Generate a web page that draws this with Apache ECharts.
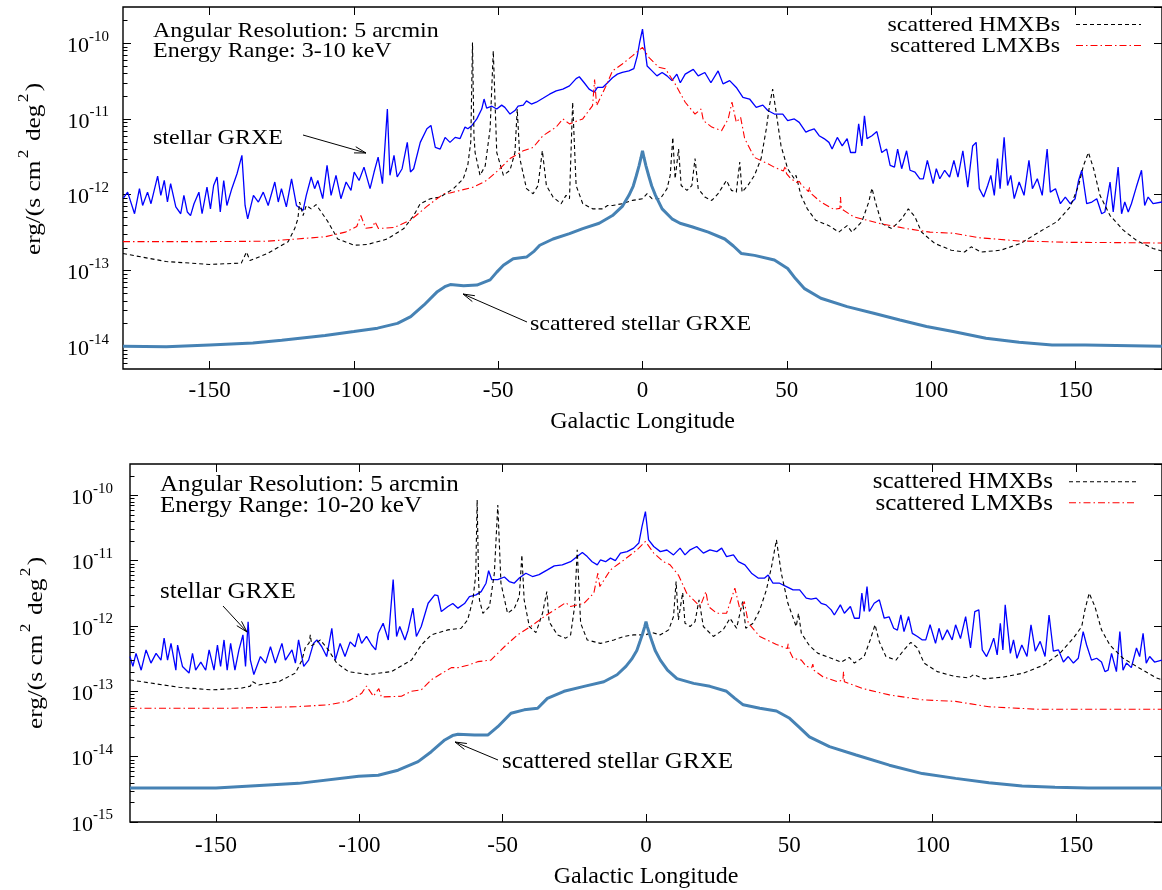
<!DOCTYPE html>
<html>
<head>
<meta charset="utf-8">
<script src="https://cdn.jsdelivr.net/npm/echarts@6/dist/echarts.min.js"></script>
<style>
html,body{margin:0;padding:0;background:#fff;}
#chart{width:1162px;height:890px;}
</style>
</head>
<body>
<div id="chart"></div>
<script>
// ---------------- DATA ----------------
const xTicks = [-150, -100, -50, 0, 50, 100, 150];
const decadesTop = [-14, -13, -12, -11, -10];
const decadesBot = [-15, -14, -13, -12, -11, -10];

// Panel 1: 3-10 keV
const topStellar = [
[-180,0.885e-12],[-178.4,1.08e-12],[-176.0,0.56e-12],[-174.3,1.2e-12],[-173.2,0.72e-12],[-171.5,1.08e-12],[-170.3,0.76e-12],[-168.0,1.76e-12],[-166.9,0.98e-12],[-165.7,1.54e-12],[-164.6,0.8e-12],[-163.5,1.4e-12],[-161.7,0.69e-12],[-160.0,0.56e-12],[-158.9,0.98e-12],[-157.7,0.59e-12],[-156.6,0.53e-12],[-155.4,0.76e-12],[-153.7,1.08e-12],[-152.6,0.56e-12],[-150.9,1.26e-12],[-149.7,0.65e-12],[-148.6,1.32e-12],[-147.4,1.71e-12],[-146.3,0.59e-12],[-145.1,1.54e-12],[-144.0,0.72e-12],[-142.3,1.2e-12],[-140.5,1.89e-12],[-138.8,3.3e-12],[-137.7,0.72e-12],[-136.8,0.48e-12],[-134.8,0.98e-12],[-133.1,0.8e-12],[-131.4,1.08e-12],[-129.7,0.72e-12],[-127.4,1.47e-12],[-126.2,0.8e-12],[-125.1,1.2e-12],[-123.4,0.69e-12],[-121.6,1.62e-12],[-119.9,0.72e-12],[-117.6,0.62e-12],[-116.5,0.98e-12],[-114.8,1.71e-12],[-113.6,1.2e-12],[-112.5,1.54e-12],[-110.8,0.885e-12],[-109.3,2.43e-12],[-107.9,0.98e-12],[-106.2,1.8e-12],[-104.5,0.885e-12],[-102.7,1.47e-12],[-101.0,1.14e-12],[-99.9,1.99e-12],[-98.2,1.54e-12],[-96.5,2.31e-12],[-94.4,1.2e-12],[-93.0,1.99e-12],[-91.6,3.13e-12],[-90.1,1.4e-12],[-88.4,1.35e-11],[-87.5,1.8e-12],[-86.1,3.3e-12],[-85.0,1.71e-12],[-83.3,2.2e-12],[-81.5,4.9e-12],[-80.4,1.99e-12],[-79.3,2.2e-12],[-77.0,4.9e-12],[-74.7,7.4e-12],[-73.3,8.2e-12],[-71.8,4.2e-12],[-70.1,4.0e-12],[-68.4,5.7e-12],[-66.7,4.9e-12],[-64.9,5.7e-12],[-63.2,5.5e-12],[-61.5,7.8e-12],[-60.5,7.4e-12],[-59.1,8.2e-12],[-57.4,1.0e-11],[-55.7,1.35e-11],[-54.9,1.83e-11],[-54.0,1.39e-11],[-52.2,1.47e-11],[-50.5,1.35e-11],[-48.8,1.52e-11],[-47.7,1.42e-11],[-45.9,1.16e-11],[-44.2,1.29e-11],[-43.1,1.47e-11],[-41.3,1.52e-11],[-40.2,1.73e-11],[-38.5,1.57e-11],[-36.8,1.66e-11],[-34.5,1.87e-11],[-32.2,2.12e-11],[-29.9,2.35e-11],[-27.6,2.47e-11],[-25.3,2.73e-11],[-23.0,3.4e-11],[-21.9,3.6e-11],[-20.2,3.0e-11],[-18.5,2.47e-11],[-16.7,2.25e-11],[-15.6,2.61e-11],[-13.8,2.6e-11],[-12.1,3.0e-11],[-10.4,3.5e-11],[-8.7,3.9e-11],[-7.0,4.1e-11],[-4.7,4.3e-11],[-3.0,4.6e-11],[-1.8,6.8e-11],[-1.0,1.02e-10],[0,1.53e-10],[0.7,9.2e-11],[1.6,5.0e-11],[3.3,4.3e-11],[5.0,3.7e-11],[6.8,4.1e-11],[8.5,3.7e-11],[10.2,3.2e-11],[11.9,3.9e-11],[13.1,3.0e-11],[14.8,3.9e-11],[17.6,4.5e-11],[19.3,3.7e-11],[21.6,4.1e-11],[23.7,3.0e-11],[26.2,4.3e-11],[27.9,2.9e-11],[30.2,3.2e-11],[32.5,2.6e-11],[34.8,1.93e-11],[37.1,1.83e-11],[39.4,1.42e-11],[41.7,1.52e-11],[43.4,1.29e-11],[45.7,1.16e-11],[48.6,1.16e-11],[50.3,9.5e-12],[52.6,1.0e-11],[54.3,9.0e-12],[56.6,6.7e-12],[57.7,7.0e-12],[59.5,7.4e-12],[61.2,6.0e-12],[62.9,5.5e-12],[64.6,4.9e-12],[65.7,4.0e-12],[67.5,5.7e-12],[69.2,4.4e-12],[70.9,5.5e-12],[72.1,3.6e-12],[73.8,3.6e-12],[74.9,8.6e-12],[76.0,4.4e-12],[76.9,1.1e-11],[77.8,5.5e-12],[79.5,6.0e-12],[81.2,6.8e-12],[82.9,3.6e-12],[84.6,4.0e-12],[85.8,2.43e-12],[87.3,2.31e-12],[88.4,4.0e-12],[89.8,2.2e-12],[91.5,3.8e-12],[92.7,2.1e-12],[94.4,1.99e-12],[96.1,1.62e-12],[97.3,1.62e-12],[98.7,2.83e-12],[100.7,1.4e-12],[101.8,2.2e-12],[103.0,1.62e-12],[104.7,2.1e-12],[106.4,1.71e-12],[107.9,2.83e-12],[109.3,1.71e-12],[111.0,3.8e-12],[112.7,1.26e-12],[114.4,4.4e-12],[115.6,4.9e-12],[116.7,1.2e-12],[118.2,0.93e-12],[119.6,1.32e-12],[120.7,1.8e-12],[121.9,0.98e-12],[123.0,3.0e-12],[123.9,1.2e-12],[125.3,5.7e-12],[126.5,1.32e-12],[127.6,1.8e-12],[128.8,0.885e-12],[130.5,1.47e-12],[132.2,0.98e-12],[133.9,2.83e-12],[135.1,1.2e-12],[136.8,1.62e-12],[138.5,0.98e-12],[140.2,4.0e-12],[141.3,1.08e-12],[143.1,1.2e-12],[144.8,0.76e-12],[146.5,0.93e-12],[148.2,0.76e-12],[149.9,0.885e-12],[151.1,1.54e-12],[152.2,2.1e-12],[153.9,0.76e-12],[155.7,0.8e-12],[157.4,0.885e-12],[159.1,0.56e-12],[160.2,0.59e-12],[162.0,1.47e-12],[163.1,0.59e-12],[164.8,2.31e-12],[166.0,0.56e-12],[167.1,0.8e-12],[168.3,0.59e-12],[169.4,0.76e-12],[171.1,1.26e-12],[172.9,2.1e-12],[174.0,0.72e-12],[175.2,0.93e-12],[176.9,0.76e-12],[180,0.8e-12]
];
const topHMXB = [
[-180,1.67e-13],[-165,1.31e-13],[-150,1.2e-13],[-139,1.25e-13],[-137.2,1.75e-13],[-136,1.35e-13],[-130,1.67e-13],[-122.8,2.39e-13],[-120.5,3.57e-13],[-119.4,4.8e-13],[-118.8,8.0e-13],[-117.6,5.3e-13],[-116.5,7.2e-13],[-114.8,6.5e-13],[-113.1,7.4e-13],[-109,4.4e-13],[-105.6,2.6e-13],[-99.9,2.15e-13],[-95.3,2.2e-13],[-88.4,2.6e-13],[-82.7,3.57e-13],[-79.3,5.3e-13],[-77.0,7.6e-13],[-73.5,8.85e-13],[-70.1,9.3e-13],[-65.5,1.2e-12],[-62.1,1.62e-12],[-60.5,2.5e-12],[-59.5,5e-12],[-58.9,1.02e-10],[-58.4,6e-12],[-58.0,3.6e-12],[-56.3,1.8e-12],[-54.5,2.4e-12],[-52.8,7.4e-12],[-51.7,7.9e-11],[-50.5,3.6e-12],[-48.2,1.8e-12],[-45.9,2.1e-12],[-44.2,3.6e-12],[-43.4,1.35e-11],[-42.5,3.0e-12],[-40.2,1.2e-12],[-37.9,1.03e-12],[-36.2,1.32e-12],[-34.7,3.8e-12],[-33.3,1.32e-12],[-31.0,0.93e-12],[-28.2,0.76e-12],[-26.5,0.98e-12],[-25.3,0.885e-12],[-24.2,1.66e-11],[-23.0,1.32e-12],[-20.7,0.76e-12],[-17.3,0.65e-12],[-13.8,0.65e-12],[-12.1,0.72e-12],[-10.4,0.72e-12],[-7.0,0.76e-12],[-3.5,0.84e-12],[0,0.885e-12],[1.6,1.03e-12],[3.3,0.885e-12],[6.2,0.885e-12],[8.5,1.2e-12],[9.6,1.8e-12],[10.5,5.7e-12],[11.3,1.62e-12],[12.5,4.0e-12],[13.4,1.32e-12],[15.4,1.14e-12],[17.1,1.32e-12],[18.2,3.0e-12],[19.3,1.2e-12],[21.6,0.93e-12],[24.0,0.84e-12],[26.2,1.03e-12],[29.1,1.54e-12],[30.8,1.14e-12],[32.5,1.08e-12],[33.7,2.7e-12],[34.5,1.08e-12],[36.5,1.32e-12],[38.8,1.8e-12],[41.1,3.0e-12],[42.9,7.4e-12],[44.0,1.5e-11],[45.1,2.47e-11],[46.3,1.23e-11],[48.0,4.4e-12],[50.3,2.2e-12],[52.6,1.62e-12],[53.2,1.8e-12],[54.9,0.98e-12],[57.1,0.65e-12],[60.0,0.46e-12],[64.6,0.39e-12],[68.0,0.32e-12],[70.9,0.39e-12],[72.6,0.32e-12],[76.0,0.44e-12],[78.4,0.8e-12],[79.5,1.22e-12],[80.7,0.8e-12],[82.9,0.415e-12],[86.4,0.357e-12],[89.8,0.48e-12],[92.1,0.65e-12],[94.4,0.51e-12],[96.7,0.32e-12],[101.3,0.227e-12],[107.0,0.185e-12],[111.6,0.175e-12],[113.9,0.205e-12],[117.3,0.175e-12],[124.2,0.185e-12],[131.0,0.227e-12],[137.9,0.33e-12],[143.6,0.44e-12],[148.2,0.69e-12],[151.1,1.32e-12],[152.8,2.43e-12],[154.5,3.6e-12],[156.3,2.2e-12],[158.5,0.98e-12],[162.0,0.53e-12],[166.6,0.34e-12],[171.1,0.25e-12],[176.9,0.195e-12],[180,0.18e-12]
];
const topLMXB = [
[-180,2.4e-13],[-150,2.4e-13],[-130,2.43e-13],[-110,2.78e-13],[-103,3.2e-13],[-99,3.8e-13],[-97.6,5.3e-13],[-95.9,3.6e-13],[-93.5,3.7e-13],[-92.7,4.4e-13],[-91.5,3.57e-13],[-86,3.7e-13],[-80.4,4.6e-13],[-74.7,7.0e-13],[-71.2,8.85e-13],[-68.8,1.03e-12],[-66.7,1.05e-12],[-63.1,1.14e-12],[-58.5,1.26e-12],[-54.0,1.54e-12],[-49.4,2.2e-12],[-45.9,3.0e-12],[-41.3,3.8e-12],[-37.9,4.2e-12],[-34.5,6.0e-12],[-29.9,7.8e-12],[-27.6,1.0e-11],[-25.3,8.6e-12],[-20.7,1.0e-11],[-17.3,1.5e-11],[-16.6,3.3e-11],[-15.9,1.5e-11],[-12.7,2.7e-11],[-10.4,4.3e-11],[-7.0,5.3e-11],[-3.5,6.8e-11],[0,8.8e-11],[2.2,6.5e-11],[5.6,4.8e-11],[7.9,4.6e-11],[11.3,2.9e-11],[14.8,1.66e-11],[18.2,1.16e-11],[20.3,1.35e-11],[21.1,9.5e-12],[24.0,7.8e-12],[27.4,7.0e-12],[29.7,1.0e-11],[31.0,1.66e-11],[32.5,9.0e-12],[34.0,1.05e-11],[35.4,5.5e-12],[38.8,3.1e-12],[43.4,2.56e-12],[45.7,2.3e-12],[48.8,2.05e-12],[49.5,2.4e-12],[49.9,1.9e-12],[51.4,1.62e-12],[53.5,1.45e-12],[54.3,1.5e-12],[55.0,1.35e-12],[57.5,1.1e-12],[57.9,1.25e-12],[58.2,1.05e-12],[61.8,0.8e-12],[66.3,0.64e-12],[68.4,0.66e-12],[68.6,0.93e-12],[68.9,0.65e-12],[73.2,0.51e-12],[82.4,0.415e-12],[91.5,0.357e-12],[99.6,0.32e-12],[107.6,0.31e-12],[116.7,0.27e-12],[130.5,0.245e-12],[147.7,0.235e-12],[164.8,0.233e-12],[180,0.23e-12]
];
const topScattered = [
[-180,1.0e-14],[-165,0.98e-14],[-150,1.04e-14],[-135,1.1e-14],[-125,1.2e-14],[-110,1.38e-14],[-100,1.56e-14],[-91.8,1.73e-14],[-84.9,2.0e-14],[-80.3,2.46e-14],[-75.7,3.5e-14],[-71.1,5.25e-14],[-68.5,6.1e-14],[-66.6,6.5e-14],[-62.0,6.3e-14],[-57.4,6.4e-14],[-52.8,7.5e-14],[-50.5,9.5e-14],[-48.2,1.17e-13],[-44.8,1.43e-13],[-40.2,1.5e-13],[-37.5,1.8e-13],[-35.6,2.15e-13],[-31.0,2.6e-13],[-25.3,3.06e-13],[-20.7,3.57e-13],[-15.0,4.2e-13],[-10.4,5.3e-13],[-7.0,7.0e-13],[-4.7,0.98e-12],[-3.2,1.3e-12],[-2.2,1.75e-12],[-1.2,2.4e-12],[-0.5,3.1e-12],[0,3.8e-12],[0.5,3.1e-12],[1.2,2.4e-12],[2.2,1.75e-12],[3.2,1.3e-12],[4.5,0.98e-12],[6.8,0.65e-12],[10.2,0.48e-12],[13.0,4.2e-13],[17.1,3.77e-13],[22.8,3.2e-13],[28.5,2.6e-13],[31.5,2.1e-13],[34.3,1.67e-13],[38.8,1.58e-13],[45.7,1.37e-13],[50.3,1.06e-13],[53.0,7.8e-14],[56.0,5.8e-14],[61.8,4.3e-14],[70.9,3.33e-14],[80.1,2.72e-14],[89.2,2.22e-14],[98.4,1.82e-14],[107.6,1.56e-14],[119.0,1.27e-14],[130.5,1.13e-14],[141.9,1.04e-14],[153.4,1.04e-14],[180,1.0e-14]
];

// Panel 2: 10-20 keV
const botStellar = [
[-180,0.34e-12],[-179,0.24e-12],[-177.9,0.38e-12],[-176.1,0.21e-12],[-174.4,0.43e-12],[-172.7,0.27e-12],[-170.9,0.38e-12],[-169.2,0.30e-12],[-168.1,0.65e-12],[-166.9,0.30e-12],[-165.7,0.54e-12],[-164.0,0.21e-12],[-163.4,0.51e-12],[-161.7,0.24e-12],[-159.4,0.19e-12],[-158.2,0.38e-12],[-157.1,0.21e-12],[-155.3,0.28e-12],[-153.6,0.21e-12],[-152.4,0.43e-12],[-150.7,0.21e-12],[-149.5,0.51e-12],[-148.4,0.24e-12],[-147.2,0.61e-12],[-146.1,0.21e-12],[-144.9,0.54e-12],[-143.4,0.21e-12],[-142.0,0.43e-12],[-140.6,0.73e-12],[-139.7,0.24e-12],[-138.8,1.16e-12],[-138.0,0.30e-12],[-136.8,0.18e-12],[-134.5,0.34e-12],[-132.7,0.27e-12],[-131.0,0.48e-12],[-129.3,0.27e-12],[-127.0,0.54e-12],[-125.8,0.30e-12],[-123.5,0.43e-12],[-122.3,0.27e-12],[-121.2,0.61e-12],[-119.4,0.24e-12],[-117.7,0.30e-12],[-116.0,0.54e-12],[-114.8,0.61e-12],[-113.1,0.48e-12],[-111.4,0.34e-12],[-109.6,0.92e-12],[-108.4,0.30e-12],[-106.7,0.54e-12],[-105.0,0.34e-12],[-103.2,0.57e-12],[-101.5,0.48e-12],[-100.3,0.77e-12],[-99.2,0.54e-12],[-97.5,0.69e-12],[-95.7,0.51e-12],[-94.3,0.43e-12],[-93.4,0.77e-12],[-91.7,1.1e-12],[-89.9,0.61e-12],[-88.2,5.1e-12],[-87.0,0.69e-12],[-85.9,0.98e-12],[-84.1,0.61e-12],[-83.0,0.86e-12],[-81.3,1.87e-12],[-80.1,0.69e-12],[-78.4,0.98e-12],[-76.0,2.22e-12],[-73.7,2.98e-12],[-72.6,2.9e-12],[-71.4,1.66e-12],[-69.1,1.98e-12],[-67.4,2.2e-12],[-65.6,1.87e-12],[-63.3,2.2e-12],[-61.6,2.8e-12],[-59.3,2.98e-12],[-57.5,3.35e-12],[-55.8,4.5e-12],[-54.9,7.0e-12],[-53.8,5.1e-12],[-51.7,5.1e-12],[-49.4,5.6e-12],[-47.7,4.77e-12],[-46.0,4.5e-12],[-44.2,5.4e-12],[-41.9,6.4e-12],[-39.6,5.7e-12],[-37.3,6.1e-12],[-34.4,7.2e-12],[-32.0,8.3e-12],[-29.2,8.6e-12],[-26.3,9.6e-12],[-24.0,1.15e-11],[-22.2,1.33e-11],[-20.5,1.15e-11],[-18.8,9.6e-12],[-17.0,8.6e-12],[-15.9,1.02e-11],[-14.1,9.6e-12],[-12.4,1.09e-11],[-10.7,1.0e-11],[-8.9,1.3e-11],[-6.6,1.37e-11],[-4.3,1.55e-11],[-2.5,1.85e-11],[-1.4,3.3e-11],[-0.2,5.6e-11],[0.9,2.07e-11],[2.7,1.64e-11],[5.0,1.37e-11],[7.3,1.45e-11],[9.6,1.22e-11],[11.9,1.55e-11],[13.6,1.22e-11],[15.4,1.46e-11],[17.7,1.64e-11],[20.0,1.3e-11],[22.3,1.46e-11],[24.7,1.37e-11],[26.4,1.55e-11],[28.1,1.15e-11],[30.5,1.22e-11],[32.2,9.6e-12],[34.5,8.6e-12],[36.8,6.4e-12],[39.1,5.4e-12],[41.4,5.4e-12],[42.6,6.0e-12],[44.3,4.5e-12],[46.6,4.5e-12],[49.0,4.0e-12],[51.3,3.56e-12],[53.6,3.56e-12],[55.9,2.66e-12],[57.6,2.56e-12],[59.4,2.66e-12],[61.1,2.22e-12],[62.8,2.1e-12],[64.6,1.76e-12],[65.7,1.47e-12],[67.8,2.1e-12],[69.2,1.56e-12],[71.3,1.98e-12],[72.7,1.31e-12],[74.4,1.31e-12],[75.3,3.17e-12],[76.1,1.66e-12],[77.1,4.0e-12],[77.9,1.66e-12],[79.6,2.22e-12],[81.4,2.5e-12],[83.1,1.31e-12],[84.8,1.38e-12],[86.4,0.92e-12],[87.7,0.86e-12],[88.9,1.47e-12],[90.0,0.82e-12],[91.6,1.39e-12],[92.9,0.77e-12],[94.7,0.69e-12],[96.4,0.61e-12],[97.6,0.61e-12],[99.1,1.04e-12],[101.0,0.54e-12],[102.2,0.92e-12],[103.4,0.61e-12],[105.1,0.87e-12],[106.8,0.61e-12],[108.0,1.04e-12],[109.7,0.64e-12],[111.5,1.39e-12],[113.2,0.46e-12],[114.7,1.66e-12],[116.1,1.76e-12],[117.3,0.43e-12],[118.8,0.34e-12],[120.1,0.46e-12],[121.3,0.65e-12],[122.5,0.36e-12],[123.6,1.1e-12],[124.5,0.43e-12],[125.3,2.1e-12],[127.1,0.38e-12],[128.2,0.61e-12],[129.4,0.32e-12],[131.1,0.51e-12],[132.9,0.34e-12],[134.3,1.04e-12],[135.8,0.41e-12],[137.5,0.58e-12],[139.2,0.34e-12],[140.6,1.47e-12],[142.1,0.41e-12],[143.9,0.43e-12],[145.6,0.28e-12],[147.3,0.34e-12],[149.1,0.27e-12],[150.8,0.32e-12],[152.5,0.82e-12],[153.7,0.51e-12],[155.4,0.30e-12],[157.2,0.32e-12],[158.9,0.28e-12],[160.1,0.2e-12],[161.2,0.21e-12],[162.4,0.38e-12],[164.1,0.2e-12],[165.3,0.82e-12],[166.4,0.21e-12],[167.6,0.27e-12],[169.3,0.23e-12],[171.1,0.46e-12],[172.2,0.34e-12],[173.4,0.77e-12],[174.5,0.27e-12],[175.7,0.34e-12],[177.4,0.28e-12],[180,0.3e-12]
];
const botHMXB = [
[-180,1.49e-13],[-162.8,1.15e-13],[-151.3,1.05e-13],[-140.9,1.12e-13],[-138,1.2e-13],[-137.2,1.4e-13],[-135.1,1.25e-13],[-128.1,1.4e-13],[-122.3,1.9e-13],[-120.0,0.30e-12],[-118.9,0.46e-12],[-117.5,0.55e-12],[-117.1,0.73e-12],[-116.6,0.5e-12],[-116.0,0.48e-12],[-113.6,0.61e-12],[-110.8,0.43e-12],[-107.9,0.27e-12],[-103.8,0.2e-12],[-96.9,0.18e-12],[-88.8,0.2e-12],[-81.8,0.30e-12],[-78.4,0.51e-12],[-74.9,0.73e-12],[-69.1,0.87e-12],[-64.5,0.92e-12],[-62.2,1.24e-12],[-60.4,2.5e-12],[-59.4,6e-12],[-58.9,8.5e-11],[-58.4,5e-12],[-58.1,2.5e-12],[-56.9,1.56e-12],[-54.6,1.98e-12],[-52.9,6.4e-12],[-51.7,7.1e-11],[-50.6,4.5e-12],[-48.3,1.56e-12],[-45.9,1.87e-12],[-44.2,2.8e-12],[-43.3,1.22e-11],[-42.5,2.5e-12],[-40.7,0.98e-12],[-38.4,0.79e-12],[-36.1,1.56e-12],[-34.6,3.35e-12],[-33.8,1.16e-12],[-30.9,0.73e-12],[-28.0,0.65e-12],[-26.3,0.73e-12],[-24.9,1.98e-12],[-24.0,1.46e-11],[-22.8,1.1e-12],[-20.5,0.61e-12],[-15.9,0.54e-12],[-11.2,0.61e-12],[-7.7,0.69e-12],[-4.3,0.73e-12],[-0.2,0.73e-12],[2.1,0.79e-12],[5.0,0.73e-12],[7.9,0.87e-12],[9.6,1.39e-12],[10.5,4.77e-12],[11.3,1.24e-12],[12.8,3.23e-12],[13.6,1.1e-12],[15.4,0.98e-12],[17.1,1.16e-12],[18.5,2.5e-12],[20.0,0.98e-12],[23.5,0.69e-12],[26.9,0.87e-12],[29.3,1.31e-12],[31.6,0.92e-12],[33.7,2.36e-12],[34.8,0.92e-12],[37.4,1.1e-12],[39.7,1.76e-12],[42.0,3.56e-12],[43.8,8.1e-12],[45.5,2.07e-11],[47.2,6.4e-12],[49.5,2.22e-12],[52.4,0.98e-12],[53.2,1.56e-12],[54.2,0.77e-12],[57.0,0.5e-12],[60.0,0.38e-12],[64.6,0.32e-12],[68.1,0.28e-12],[70.9,0.33e-12],[72.7,0.27e-12],[76.1,0.34e-12],[78.2,0.61e-12],[79.9,1.04e-12],[81.4,0.57e-12],[83.7,0.34e-12],[87.2,0.30e-12],[90.0,0.43e-12],[92.4,0.56e-12],[94.7,0.46e-12],[97.0,0.27e-12],[101.6,0.2e-12],[107.4,0.17e-12],[112.6,0.16e-12],[114.3,0.18e-12],[117.8,0.155e-12],[124.8,0.165e-12],[131.7,0.19e-12],[138.6,0.25e-12],[144.4,0.38e-12],[149.1,0.65e-12],[152.0,0.98e-12],[153.1,1.76e-12],[154.6,3.17e-12],[156.6,1.98e-12],[158.9,0.87e-12],[161.8,0.51e-12],[166.4,0.32e-12],[172.2,0.225e-12],[178.0,0.16e-12],[180,0.15e-12]
];
const botLMXB = [
[-180,5.5e-14],[-145.5,5.5e-14],[-122.3,5.8e-14],[-110.8,6.2e-14],[-103.8,7.1e-14],[-99.2,9.3e-14],[-97.5,1.2e-13],[-95.1,8.4e-14],[-93.2,1.1e-13],[-92.3,8.2e-14],[-85.3,8.4e-14],[-81.8,1.0e-13],[-78.4,1.05e-13],[-74.9,1.5e-13],[-70.2,2.0e-13],[-67.9,2.3e-13],[-65.6,2.3e-13],[-62.2,2.5e-13],[-58.7,2.84e-13],[-54.1,3.0e-13],[-49.4,4.8e-13],[-44.8,7.3e-13],[-40.2,0.98e-12],[-35.5,1.39e-12],[-30.9,1.87e-12],[-28.0,2.27e-12],[-26.3,1.98e-12],[-21.6,2.22e-12],[-18.2,3.17e-12],[-16.8,6.4e-12],[-16.1,4.0e-12],[-12.4,7.2e-12],[-7.7,1.02e-11],[-3.1,1.46e-11],[-0.2,1.96e-11],[2.7,1.3e-11],[6.1,9.6e-12],[8.4,8.6e-12],[11.3,6.0e-12],[14.2,3.17e-12],[18.9,1.98e-12],[20.9,3.35e-12],[21.8,1.98e-12],[24.7,1.56e-12],[28.1,1.56e-12],[31.0,3.78e-12],[32.8,1.76e-12],[34.3,2.36e-12],[35.7,1.1e-12],[39.7,0.69e-12],[45.5,0.52e-12],[49.3,0.45e-12],[49.6,0.53e-12],[50.0,0.42e-12],[51.3,0.32e-12],[54.2,0.30e-12],[55.9,0.24e-12],[57.8,0.23e-12],[58.2,0.26e-12],[58.6,0.21e-12],[61.7,0.167e-12],[66.9,0.14e-12],[68.7,0.15e-12],[68.9,0.2e-12],[69.2,0.14e-12],[69.8,0.131e-12],[75.6,0.11e-12],[84.9,0.088e-12],[96.4,0.074e-12],[108,0.07e-12],[119.6,0.058e-12],[136.9,0.053e-12],[154.3,0.053e-12],[180,0.053e-12]
];
const botScattered = [
[-180,3.3e-15],[-150,3.3e-15],[-121.2,3.9e-15],[-100.2,5.0e-15],[-93.4,5.2e-15],[-86.5,6.2e-15],[-79.5,8.4e-15],[-74.9,1.19e-14],[-70.2,1.8e-14],[-67.5,2.1e-14],[-65.6,2.2e-14],[-59.8,2.14e-14],[-55.2,2.14e-14],[-51.7,2.87e-14],[-47.1,4.6e-14],[-42.5,5.2e-14],[-37.8,5.5e-14],[-34.4,7.8e-14],[-28.6,1.0e-13],[-21.6,1.19e-13],[-14.7,1.4e-13],[-10.1,1.79e-13],[-7.0,2.4e-13],[-5.0,3.1e-13],[-3.2,4.2e-13],[-2.2,5.6e-13],[-1.2,7.6e-13],[-0.5,9.6e-13],[0,1.16e-12],[0.5,9.6e-13],[1.2,7.6e-13],[2.2,5.6e-13],[3.2,4.2e-13],[5.0,3.0e-13],[7.5,2.1e-13],[10.8,1.56e-13],[16.6,1.32e-13],[22.3,1.19e-13],[28.1,1.0e-13],[31.0,7.8e-14],[33.9,6.2e-14],[39.7,5.5e-14],[45.5,5.0e-14],[50.1,3.86e-14],[53.5,2.8e-14],[57.0,2.0e-14],[64.0,1.42e-14],[73.3,1.06e-14],[84.9,7.4e-15],[96.4,5.5e-15],[108,4.65e-15],[119.6,4.0e-15],[131.2,3.55e-15],[142.7,3.4e-15],[154.3,3.3e-15],[180,3.3e-15]
];

// ---------------- CHART ----------------
const FONT = 'Liberation Serif';
const chart = echarts.init(document.getElementById('chart'), null, {renderer: 'canvas'});

function expFormatter(v) {
  const e = Math.log10(v);
  const r = Math.round(e);
  if (Math.abs(e - r) > 0.01) return '';
  return '{b|10}{s|' + r + '}';
}
const tickRich = {
  b: {fontSize: 22, fontFamily: FONT, color: '#000', padding: [6, 0, 0, 0]},
  s: {fontSize: 15, fontFamily: FONT, color: '#000', verticalAlign: 'top'}
};

function makeX(gi, pos, labels, margin, gap) {
  return {
    type: 'value', gridIndex: gi, position: pos, min: -180, max: 180,
    axisLine: {show: false, onZero: false}, splitLine: {show: false},
    axisTick: {show: true, inside: true, length: 8, customValues: xTicks, lineStyle: {color: '#000', width: 1}},
    axisLabel: {show: labels, customValues: xTicks, margin: margin, color: '#000', fontFamily: FONT, fontSize: 23},
    name: labels ? 'Galactic Longitude' : '', nameLocation: 'middle', nameGap: gap,
    nameTextStyle: {fontFamily: FONT, fontSize: 24, color: '#000'}
  };
}
function makeY(gi, pos, min, max, margin, showMin, labels) {
  return {
    type: 'log', logBase: 10, gridIndex: gi, position: pos, min: min, max: max,
    axisLine: {show: false, onZero: false}, splitLine: {show: false},
    axisTick: {show: true, inside: true, length: 8, lineStyle: {color: '#000', width: 1}},
    axisLabel: {show: labels, margin: margin, formatter: expFormatter, rich: tickRich, showMinLabel: showMin, showMaxLabel: false}
  };
}
function line(name, data, xi, yi, color, width, type) {
  return {
    name: name, type: 'line', xAxisIndex: xi, yAxisIndex: yi, data: data,
    showSymbol: false, symbol: 'none', smooth: false, silent: true,
    lineStyle: {color: color, width: width, type: type}
  };
}
const HM_DASH = [4, 3];
const LM_DASH = [7, 3, 1.5, 3];

chart.setOption({
  animation: false,
  backgroundColor: '#fff',
  grid: [
    {left: 123, top: 7, width: 1048, height: 362, show: true, borderColor: '#000', borderWidth: 1.4, backgroundColor: 'transparent'},
    {left: 130, top: 464, width: 1037, height: 358, show: true, borderColor: '#000', borderWidth: 1.4, backgroundColor: 'transparent'}
  ],
  xAxis: [
    makeX(0, 'bottom', true, 10, 41),
    makeX(0, 'top', false, 0, 0),
    makeX(1, 'bottom', true, 12, 43),
    makeX(1, 'top', false, 0, 0)
  ],
  yAxis: [
    makeY(0, 'left', 5e-15, 3e-10, 14, false, true),
    makeY(1, 'left', 1e-15, 3e-10, 17, true, true),
    makeY(0, 'right', 5e-15, 3e-10, 0, false, false),
    makeY(1, 'right', 1e-15, 3e-10, 0, false, false)
  ],
  series: [
    line('stellar GRXE', topStellar, 0, 0, '#0000ff', 1.3, 'solid'),
    line('scattered HMXBs', topHMXB, 0, 0, '#000000', 1.1, HM_DASH),
    line('scattered LMXBs', topLMXB, 0, 0, '#ff0000', 1.1, LM_DASH),
    line('scattered stellar GRXE', topScattered, 0, 0, '#4682b4', 3, 'solid'),
    line('stellar GRXE', botStellar, 2, 1, '#0000ff', 1.3, 'solid'),
    line('scattered HMXBs', botHMXB, 2, 1, '#000000', 1.1, HM_DASH),
    line('scattered LMXBs', botLMXB, 2, 1, '#ff0000', 1.1, LM_DASH),
    line('scattered stellar GRXE', botScattered, 2, 1, '#4682b4', 3, 'solid')
  ]
});

// ---------------- ANNOTATIONS ----------------
const els = [];
function txt(x, y, s, size, sx, align) {
  els.push({type: 'text', x: x, y: y, scaleX: sx, silent: true, z: 10,
    style: {text: s, fontFamily: FONT, fontSize: size, fill: '#000', align: align || 'left', verticalAlign: 'middle'}});
}
function arrow(x1, y1, x2, y2) {
  const dx = x2 - x1, dy = y2 - y1, L = Math.hypot(dx, dy), ux = dx / L, uy = dy / L;
  const h = 12, a = 0.27, c = Math.cos(a), s = Math.sin(a);
  const b1 = [x2 - h * (c * ux - s * uy), y2 - h * (s * ux + c * uy)];
  const b2 = [x2 - h * (c * ux + s * uy), y2 - h * (-s * ux + c * uy)];
  els.push({type: 'line', silent: true, z: 10, shape: {x1: x1, y1: y1, x2: x2, y2: y2}, style: {stroke: '#000', lineWidth: 1}});
  els.push({type: 'polyline', silent: true, z: 10, shape: {points: [b1, [x2, y2], b2]}, style: {stroke: '#000', lineWidth: 1, fill: null}});
}
function legendLine(x1, x2, y, color, dash) {
  els.push({type: 'line', silent: true, z: 10, shape: {x1: x1, y1: y, x2: x2, y2: y}, style: {stroke: color, lineWidth: 1.1, lineDash: dash}});
}
function yTitle(x, y) {
  els.push({type: 'text', x: x, y: y, rotation: Math.PI / 2, scaleX: 1.15, silent: true, z: 10,
    style: {text: '{b|erg/(s cm}{s|2}{b| deg}{s|2}{b|)}', align: 'center', verticalAlign: 'middle',
      rich: {b: {fontFamily: FONT, fontSize: 22, fill: '#000', padding: [6, 0, 0, 0]},
             s: {fontFamily: FONT, fontSize: 15, fill: '#000', verticalAlign: 'top', padding: [0, 2, 0, 2]}}}});
}

// Panel 1
txt(153, 31, 'Angular Resolution: 5 arcmin', 22, 1.09);
txt(153, 51, 'Energy Range: 3-10 keV', 22, 1.09);
txt(153, 138, 'stellar GRXE', 22, 1.09);
txt(530, 324, 'scattered stellar GRXE', 22, 1.09);
txt(1060, 25, 'scattered HMXBs', 22, 1.09, 'right');
txt(1060, 46, 'scattered LMXBs', 22, 1.09, 'right');
legendLine(1076, 1141, 24.5, '#000000', HM_DASH);
legendLine(1076, 1141, 45.5, '#ff0000', LM_DASH);
arrow(303, 135, 366, 153);
arrow(527, 322, 463, 294);
yTitle(31, 169);

// Panel 2
txt(160, 485, 'Angular Resolution: 5 arcmin', 23, 1.09);
txt(160, 506, 'Energy Range: 10-20 keV', 23, 1.09);
txt(160, 592, 'stellar GRXE', 23, 1.09);
txt(502, 762, 'scattered stellar GRXE', 23, 1.09);
txt(1053, 482, 'scattered HMXBs', 23, 1.09, 'right');
txt(1053, 504, 'scattered LMXBs', 23, 1.09, 'right');
legendLine(1069, 1136, 481.7, '#000000', HM_DASH);
legendLine(1069, 1136, 502.7, '#ff0000', LM_DASH);
arrow(223, 606, 247, 632);
arrow(498, 760, 455, 742);
yTitle(33, 643);

// Minor log ticks (positions from the axis scales)
function minorTicks(xIdx, yIdx, decades, min, max) {
  const exps = [decades[0] - 1].concat(decades);
  const x0 = chart.convertToPixel({xAxisIndex: xIdx}, -180);
  exps.forEach(function (e) {
    for (let m = 2; m <= 9; m++) {
      const v = m * Math.pow(10, e);
      if (v <= min * 1.0001 || v >= max * 0.9999) continue;
      const py = chart.convertToPixel({yAxisIndex: yIdx}, v);
      if (py == null || isNaN(py) || x0 == null || isNaN(x0)) continue;
      const y = Math.round(py) + 0.5;
      els.push({type: 'line', silent: true, z: 10, shape: {x1: x0, y1: y, x2: x0 + 4.5, y2: y}, style: {stroke: '#000', lineWidth: 1}});
    }
  });
}
minorTicks(0, 0, decadesTop, 5e-15, 3e-10);
minorTicks(2, 1, decadesBot, 1e-15, 3e-10);

chart.setOption({graphic: {elements: els}});
</script>
</body>
</html>
